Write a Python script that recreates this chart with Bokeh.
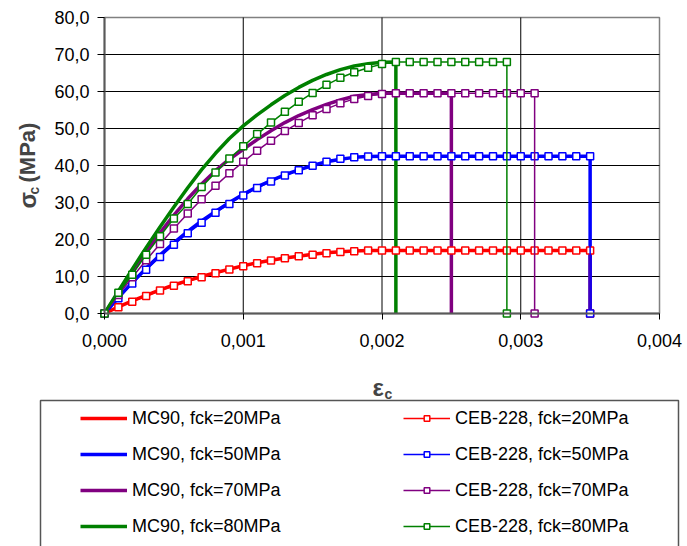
from math import pi

from bokeh.embed import file_html
from bokeh.models import (FixedTicker, Label, Legend, LegendItem, LinearAxis,
                          Range1d)
from bokeh.plotting import figure
from bokeh.resources import INLINE

# ---------------------------------------------------------------- data
# strain steps (-)
strain = [0.0000, 0.0001, 0.0002, 0.0003, 0.0004, 0.0005, 0.0006, 0.0007,
          0.0008, 0.0009, 0.0010, 0.0011, 0.0012, 0.0013, 0.0014, 0.0015,
          0.0016, 0.0017, 0.0018, 0.0019, 0.0020, 0.0021, 0.0022, 0.0023,
          0.0024, 0.0025, 0.0026, 0.0027, 0.0028, 0.0029, 0.0030, 0.0031,
          0.0032, 0.0033, 0.0034, 0.0035]

# MC90 stress (MPa)
mc90_20 = [0.0, 1.8, 3.4, 4.9, 6.4, 7.7, 8.9, 10.0, 11.0, 12.0, 12.9, 13.7,
           14.4, 15.0, 15.5, 16.0, 16.4, 16.7, 16.9, 17.0, 17.0, 17.0, 17.0,
           17.0, 17.0, 17.0, 17.0, 17.0, 17.0, 17.0, 17.0, 17.0, 17.0, 17.0,
           17.0, 17.0]
mc90_50 = [0.0, 4.3, 8.4, 12.2, 15.8, 19.1, 22.2, 25.0, 27.6, 30.0, 32.2,
           34.2, 35.9, 37.5, 38.8, 40.0, 41.0, 41.7, 42.2, 42.4, 42.5, 42.5,
           42.5, 42.5, 42.5, 42.5, 42.5, 42.5, 42.5, 42.5, 42.5, 42.5, 42.5,
           42.5, 42.5, 42.5]
mc90_70 = [0.0, 5.6, 11.2, 16.6, 21.8, 26.6, 31.0, 35.0, 38.6, 41.7, 44.4,
           47.0, 49.4, 51.6, 53.5, 55.1, 56.5, 57.7, 58.7, 59.2, 59.5, 59.5,
           59.5, 59.5, 59.5, 59.5]
mc90_80 = [0.0, 6.0, 12.0, 17.8, 23.4, 28.8, 34.0, 38.9, 43.3, 47.3, 50.7,
           53.7, 56.4, 58.9, 61.1, 63.0, 64.6, 65.9, 66.9, 67.5, 67.9, 68.0]

# CEB-228 stress (MPa)
ceb_20 = [0.0, 1.7, 3.2, 4.7, 6.2, 7.5, 8.7, 9.8, 10.9, 11.9, 12.8, 13.6,
          14.3, 14.9, 15.5, 15.9, 16.3, 16.6, 16.8, 17.0, 17.0, 17.0, 17.0,
          17.0, 17.0, 17.0, 17.0, 17.0, 17.0, 17.0, 17.0, 17.0, 17.0, 17.0,
          17.0, 17.0]
ceb_50 = [0.0, 4.1, 8.1, 11.8, 15.3, 18.6, 21.7, 24.5, 27.2, 29.6, 31.9,
          33.9, 35.7, 37.3, 38.7, 39.9, 41.0, 41.8, 42.2, 42.4, 42.5, 42.5,
          42.5, 42.5, 42.5, 42.5, 42.5, 42.5, 42.5, 42.5, 42.5, 42.5, 42.5,
          42.5, 42.5, 42.5]
ceb_70 = [0.0, 5.0, 9.8, 14.4, 18.8, 23.0, 27.0, 30.9, 34.5, 37.9, 41.0,
          44.0, 46.7, 49.3, 51.5, 53.6, 55.3, 56.8, 58.0, 58.8, 59.3, 59.5,
          59.5, 59.5, 59.5, 59.5, 59.5, 59.5, 59.5, 59.5, 59.5, 59.5]
ceb_80 = [0.0, 5.6, 10.5, 15.9, 20.9, 25.7, 29.6, 34.2, 38.1, 41.9, 45.2,
          48.5, 51.6, 54.5, 57.2, 59.6, 61.8, 63.7, 65.2, 66.4, 67.4, 68.0,
          68.0, 68.0, 68.0, 68.0, 68.0, 68.0, 68.0, 68.0]

# ultimate strain where each curve falls back to zero
mc90_ultimate = [0.0035, 0.0035, 0.0025, 0.0021]
ceb_ultimate = [0.0035, 0.0035, 0.0031, 0.0029]

mc90_labels = ["MC90, fck=20MPa", "MC90, fck=50MPa",
               "MC90, fck=70MPa", "MC90, fck=80MPa"]
ceb_labels = ["CEB-228, fck=20MPa", "CEB-228, fck=50MPa",
              "CEB-228, fck=70MPa", "CEB-228, fck=80MPa"]
colors = ["#FF0000", "#0000FF", "#800080", "#008000"]

x_ticks = [0.0, 0.001, 0.002, 0.003, 0.004]
x_tick_labels = ["0,000", "0,001", "0,002", "0,003", "0,004"]
y_ticks = [0, 10, 20, 30, 40, 50, 60, 70, 80]
y_tick_labels = ["0,0", "10,0", "20,0", "30,0", "40,0", "50,0", "60,0",
                 "70,0", "80,0"]

FONT = "Liberation Sans"

# ---------------------------------------------------------------- layout
W, H = 687, 546
PLOT_LEFT, PLOT_RIGHT, PLOT_TOP, PLOT_BOTTOM = 104, 659, 17, 313
X_SCALE = (PLOT_RIGHT - PLOT_LEFT) / (x_ticks[-1] - x_ticks[0])   # px / unit
Y_SCALE = (PLOT_BOTTOM - PLOT_TOP) / (y_ticks[-1] - y_ticks[0])   # px / MPa


def px_x(sx):
    """canvas pixel column -> strain coordinate"""
    return (sx - PLOT_LEFT) / X_SCALE


def px_y(sy):
    """canvas pixel row -> stress coordinate"""
    return (PLOT_BOTTOM - sy) / Y_SCALE


# the frame covers the whole canvas; axes sit at fixed data locations so
# the legend and titles below the chart can live inside the same frame
p = figure(width=W, height=H, output_backend="svg", toolbar_location=None,
           x_range=Range1d(px_x(0), px_x(W)),
           y_range=Range1d(px_y(H), px_y(0)),
           min_border=0, min_border_left=0, min_border_right=0,
           min_border_top=0, min_border_bottom=0,
           x_axis_location=None, y_axis_location=None)
p.background_fill_color = "white"
p.border_fill_color = "white"
p.outline_line_color = None
p.grid.visible = False

xaxis = LinearAxis(fixed_location=0, bounds=(x_ticks[0], x_ticks[-1]))
yaxis = LinearAxis(fixed_location=0, bounds=(y_ticks[0], y_ticks[-1]))
p.add_layout(xaxis, "below")
p.add_layout(yaxis, "left")

for ax in (xaxis, yaxis):
    ax.axis_line_color = "#595959"
    ax.axis_line_width = 2
    ax.major_tick_line_color = "black"
    ax.major_tick_in = 0
    ax.minor_tick_line_color = None
    ax.major_label_text_font = FONT
    ax.major_label_text_font_size = "18px"
    ax.major_label_text_color = "black"

xaxis.ticker = FixedTicker(ticks=x_ticks)
xaxis.major_label_overrides = dict(zip(x_ticks, x_tick_labels))
xaxis.major_tick_out = 6
xaxis.major_label_standoff = 14

yaxis.ticker = FixedTicker(ticks=y_ticks)
yaxis.major_label_overrides = dict(zip(y_ticks, y_tick_labels))
yaxis.major_tick_out = 7
yaxis.major_label_standoff = 8

# plot-area border (top / right) and gridlines
p.quad(left=x_ticks[0], right=x_ticks[-1], bottom=y_ticks[0], top=y_ticks[-1],
       fill_color=None, line_color="#808080", line_width=1.5)
p.segment(x0=x_ticks[1:-1], x1=x_ticks[1:-1], y0=y_ticks[0], y1=y_ticks[-1],
          line_color="black", line_width=1)
p.segment(x0=x_ticks[0], x1=x_ticks[-1], y0=y_ticks[1:-1], y1=y_ticks[1:-1],
          line_color="black", line_width=1)

# ---------------------------------------------------------------- curves
mc90_series = [mc90_20, mc90_50, mc90_70, mc90_80]
ceb_series = [ceb_20, ceb_50, ceb_70, ceb_80]

mc90_items = []
for stress, eu, color, label in zip(mc90_series, mc90_ultimate, colors,
                                    mc90_labels):
    xs = strain[:len(stress)] + [eu]
    ys = stress + [0.0]
    r = p.line(xs, ys, line_color=color, line_width=3.5)
    mc90_items.append(LegendItem(label=label, renderers=[r]))

ceb_items = []
for stress, eu, color, label in zip(ceb_series, ceb_ultimate, colors,
                                    ceb_labels):
    xs = strain[:len(stress)] + [eu]
    ys = stress + [0.0]
    rl = p.line(xs, ys, line_color=color, line_width=1.5)
    rs = p.scatter(xs, ys, marker="square", size=7, line_color=color,
                   line_width=1.5, fill_color="white")
    ceb_items.append(LegendItem(label=label, renderers=[rl, rs]))

# ---------------------------------------------------------------- titles
p.add_layout(Label(x=px_x(372), y=px_y(387), text="ε", text_font=FONT,
                   text_font_size="24px", text_font_style="bold",
                   text_align="left", text_baseline="middle"))
p.add_layout(Label(x=px_x(384), y=px_y(393), text="c", text_font=FONT,
                   text_font_size="14px", text_font_style="bold",
                   text_align="left", text_baseline="middle"))

p.add_layout(Label(x=px_x(27), y=px_y(208), text="σ", text_font=FONT,
                   text_font_size="24px", text_font_style="bold",
                   angle=pi / 2, text_align="left", text_baseline="middle"))
p.add_layout(Label(x=px_x(33), y=px_y(194), text="c", text_font=FONT,
                   text_font_size="14px", text_font_style="bold",
                   angle=pi / 2, text_align="left", text_baseline="middle"))
p.add_layout(Label(x=px_x(27), y=px_y(182), text="(MPa)", text_font=FONT,
                   text_font_size="22px", text_font_style="bold",
                   angle=pi / 2, text_align="left", text_baseline="middle"))

# ---------------------------------------------------------------- legend
p.quad(left=px_x(40), right=px_x(678), top=px_y(400), bottom=px_y(600),
       fill_color=None, line_color="#555555", line_width=1.5)


def make_legend(items, left_px):
    return Legend(items=items, location=(left_px, H - 536.5),
                  padding=0, margin=0, spacing=15,
                  glyph_width=47, glyph_height=14, label_height=14,
                  label_standoff=5, label_text_font=FONT,
                  label_text_font_size="18px", label_text_color="black",
                  border_line_alpha=0, background_fill_alpha=0)


p.add_layout(make_legend(mc90_items, 80))
p.add_layout(make_legend(ceb_items, 403))

open("out.html", "w").write(file_html(p, INLINE))
